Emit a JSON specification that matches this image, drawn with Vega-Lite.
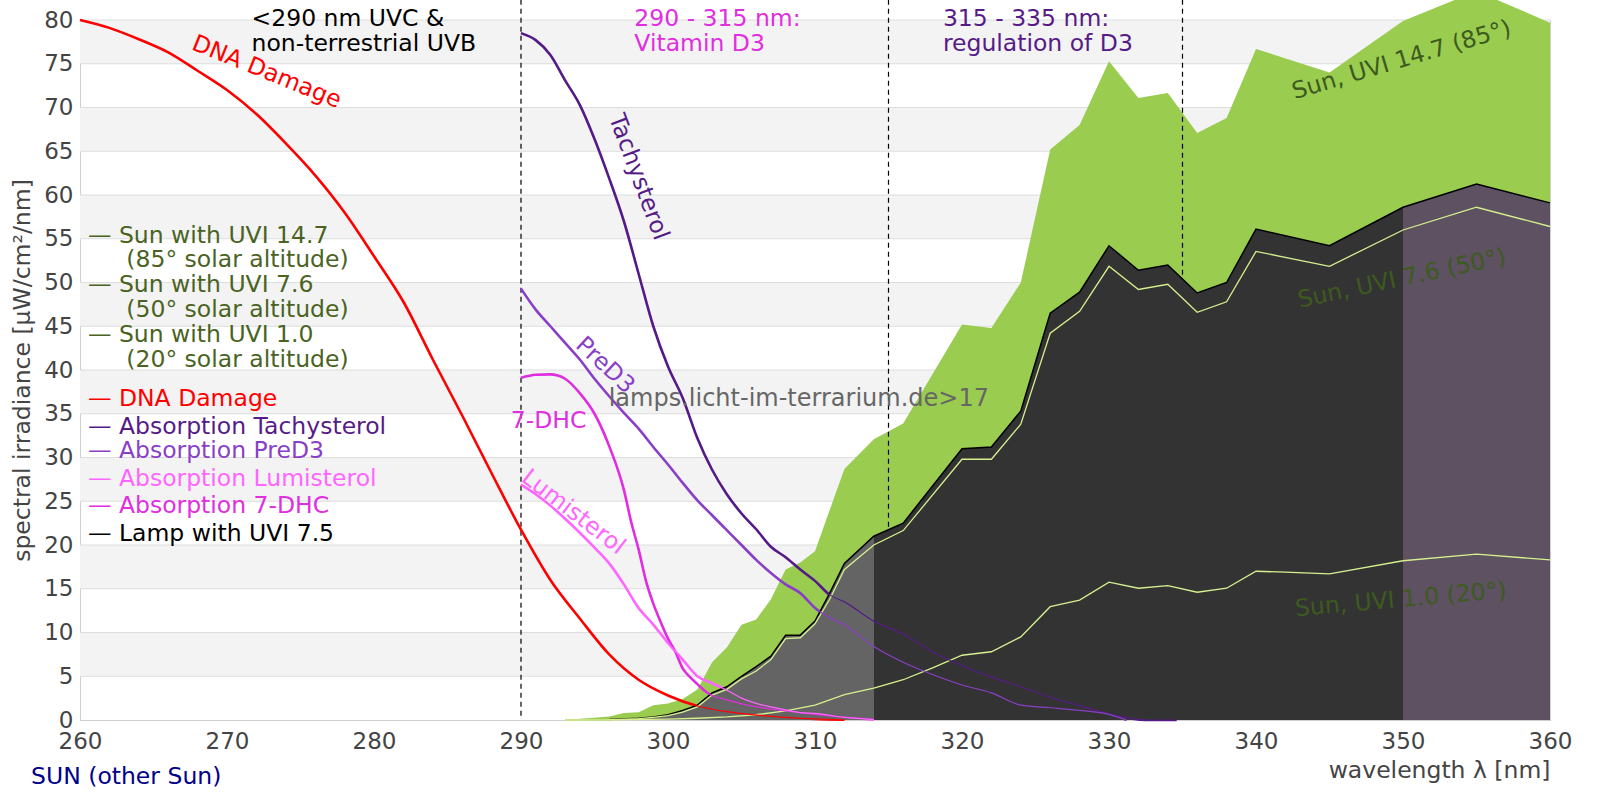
{
  "$schema": "https://vega.github.io/schema/vega-lite/v6.json",
  "width": 1470,
  "height": 700,
  "autosize": "none",
  "padding": {"left": 80, "top": 20, "right": 50, "bottom": 80},
  "config": {
    "font": "DejaVu Sans",
    "view": {"stroke": "#d0d0d0"},
    "axis": {
      "labelFont": "DejaVu Sans",
      "titleFont": "DejaVu Sans",
      "labelFontSize": 23,
      "titleFontSize": 23.5,
      "labelColor": "#444444",
      "titleColor": "#444444",
      "titleFontWeight": "normal",
      "domainColor": "#cfcfcf",
      "grid": false,
      "ticks": false,
      "tickSize": 0,
      "labelFlush": false,
      "labelOverlap": false
    },
    "text": {"fontSize": 23.5}
  },
  "datasets": {
    "bands": [
      {"v": 5, "v2": 10}, {"v": 15, "v2": 20}, {"v": 25, "v2": 30}, {"v": 35, "v2": 40},
      {"v": 45, "v2": 50}, {"v": 55, "v2": 60}, {"v": 65, "v2": 70}, {"v": 75, "v2": 80}
    ],
    "grid": [
      {"v": 5}, {"v": 10}, {"v": 15}, {"v": 20}, {"v": 25}, {"v": 30}, {"v": 35}, {"v": 40},
      {"v": 45}, {"v": 50}, {"v": 55}, {"v": 60}, {"v": 65}, {"v": 70}, {"v": 75}, {"v": 80}
    ],
    "bounds": [{"nm": 290}, {"nm": 315}, {"nm": 335}],
    "legend": [
      {"s": "Sun", "label": "— Sun with UVI 14.7", "indent": 0, "v": 54.52},
      {"s": "Sun", "label": "(85° solar altitude)", "indent": 1, "v": 51.73},
      {"s": "Sun", "label": "— Sun with UVI 7.6", "indent": 0, "v": 48.87},
      {"s": "Sun", "label": "(50° solar altitude)", "indent": 1, "v": 46.01},
      {"s": "Sun", "label": "— Sun with UVI 1.0", "indent": 0, "v": 43.15},
      {"s": "Sun", "label": "(20° solar altitude)", "indent": 1, "v": 40.29},
      {"s": "DNA Damage", "label": "— DNA Damage", "indent": 0, "v": 35.94},
      {"s": "Tachysterol", "label": "— Absorption Tachysterol", "indent": 0, "v": 32.72},
      {"s": "PreD3", "label": "— Absorption PreD3", "indent": 0, "v": 29.93},
      {"s": "Lumisterol", "label": "— Absorption Lumisterol", "indent": 0, "v": 26.76},
      {"s": "7-DHC", "label": "— Absorption 7-DHC", "indent": 0, "v": 23.64},
      {"s": "Lamp", "label": "— Lamp with UVI 7.5", "indent": 0, "v": 20.42}
    ],
    "notes": [
      {"s": "Lamp", "label": "<290 nm UVC &", "nm": 271.67, "v": 79.31},
      {"s": "Lamp", "label": "non-terrestrial UVB", "nm": 271.67, "v": 76.43},
      {"s": "7-DHC", "label": "290 - 315 nm:", "nm": 297.71, "v": 79.31},
      {"s": "7-DHC", "label": "Vitamin D3", "nm": 297.71, "v": 76.43},
      {"s": "Tachysterol", "label": "315 - 335 nm:", "nm": 318.7, "v": 79.31},
      {"s": "Tachysterol", "label": "regulation of D3", "nm": 318.7, "v": 76.43},
      {"s": "7-DHC", "label": "7-DHC", "nm": 289.3, "v": 33.36}
    ],
    "spec": [
      {"s": "DNA Damage", "nm": 260, "v": 80}, {"s": "DNA Damage", "nm": 262, "v": 79.1},
      {"s": "DNA Damage", "nm": 264, "v": 77.8}, {"s": "DNA Damage", "nm": 266, "v": 76.3},
      {"s": "DNA Damage", "nm": 268, "v": 74.2}, {"s": "DNA Damage", "nm": 270, "v": 72.0},
      {"s": "DNA Damage", "nm": 272, "v": 69.25}, {"s": "DNA Damage", "nm": 274, "v": 65.9},
      {"s": "DNA Damage", "nm": 276, "v": 62.25}, {"s": "DNA Damage", "nm": 278, "v": 58.0},
      {"s": "DNA Damage", "nm": 280, "v": 53.0}, {"s": "DNA Damage", "nm": 282, "v": 47.8},
      {"s": "DNA Damage", "nm": 284, "v": 41.2}, {"s": "DNA Damage", "nm": 286, "v": 34.8},
      {"s": "DNA Damage", "nm": 288, "v": 28.2}, {"s": "DNA Damage", "nm": 290, "v": 21.75},
      {"s": "DNA Damage", "nm": 292, "v": 16.0}, {"s": "DNA Damage", "nm": 294, "v": 11.6},
      {"s": "DNA Damage", "nm": 296, "v": 7.5}, {"s": "DNA Damage", "nm": 298, "v": 4.6},
      {"s": "DNA Damage", "nm": 300, "v": 2.8}, {"s": "DNA Damage", "nm": 302, "v": 1.6},
      {"s": "DNA Damage", "nm": 304, "v": 0.95}, {"s": "DNA Damage", "nm": 306, "v": 0.55},
      {"s": "DNA Damage", "nm": 308, "v": 0.3}, {"s": "DNA Damage", "nm": 310, "v": 0.12},
      {"s": "DNA Damage", "nm": 312, "v": 0.03},

      {"s": "Tachysterol", "nm": 290, "v": 78.5}, {"s": "Tachysterol", "nm": 291, "v": 77.7},
      {"s": "Tachysterol", "nm": 292, "v": 76.0}, {"s": "Tachysterol", "nm": 293, "v": 73.1},
      {"s": "Tachysterol", "nm": 294, "v": 70.3}, {"s": "Tachysterol", "nm": 295, "v": 66.4},
      {"s": "Tachysterol", "nm": 296, "v": 61.9}, {"s": "Tachysterol", "nm": 297, "v": 57.0},
      {"s": "Tachysterol", "nm": 298, "v": 51.0}, {"s": "Tachysterol", "nm": 299, "v": 45.0},
      {"s": "Tachysterol", "nm": 300, "v": 40.4}, {"s": "Tachysterol", "nm": 301, "v": 36.8},
      {"s": "Tachysterol", "nm": 302, "v": 32.2}, {"s": "Tachysterol", "nm": 303, "v": 28.6},
      {"s": "Tachysterol", "nm": 304, "v": 25.8}, {"s": "Tachysterol", "nm": 305, "v": 23.6},
      {"s": "Tachysterol", "nm": 306, "v": 21.8}, {"s": "Tachysterol", "nm": 307, "v": 19.8},
      {"s": "Tachysterol", "nm": 308, "v": 18.6}, {"s": "Tachysterol", "nm": 309, "v": 17.2},
      {"s": "Tachysterol", "nm": 310, "v": 15.9}, {"s": "Tachysterol", "nm": 311, "v": 14.3},
      {"s": "Tachysterol", "nm": 312, "v": 13.5}, {"s": "Tachysterol", "nm": 314, "v": 11.3},
      {"s": "Tachysterol", "nm": 316, "v": 9.8}, {"s": "Tachysterol", "nm": 318, "v": 7.8},
      {"s": "Tachysterol", "nm": 320, "v": 6.2}, {"s": "Tachysterol", "nm": 322, "v": 4.9},
      {"s": "Tachysterol", "nm": 324, "v": 3.8}, {"s": "Tachysterol", "nm": 326, "v": 2.6},
      {"s": "Tachysterol", "nm": 328, "v": 1.65}, {"s": "Tachysterol", "nm": 330, "v": 0.7},
      {"s": "Tachysterol", "nm": 332.5, "v": 0}, {"s": "Tachysterol", "nm": 334.6, "v": 0},

      {"s": "PreD3", "nm": 290, "v": 49.3}, {"s": "PreD3", "nm": 291, "v": 46.9},
      {"s": "PreD3", "nm": 292, "v": 45.0}, {"s": "PreD3", "nm": 293, "v": 43.1},
      {"s": "PreD3", "nm": 294, "v": 41.2}, {"s": "PreD3", "nm": 295, "v": 39.0},
      {"s": "PreD3", "nm": 296, "v": 37.0}, {"s": "PreD3", "nm": 297, "v": 35.1},
      {"s": "PreD3", "nm": 298, "v": 33.3}, {"s": "PreD3", "nm": 299, "v": 31.2},
      {"s": "PreD3", "nm": 300, "v": 29.2}, {"s": "PreD3", "nm": 301, "v": 27.1},
      {"s": "PreD3", "nm": 302, "v": 25.1}, {"s": "PreD3", "nm": 303, "v": 23.4},
      {"s": "PreD3", "nm": 304, "v": 21.7}, {"s": "PreD3", "nm": 305, "v": 20.0},
      {"s": "PreD3", "nm": 306, "v": 18.3}, {"s": "PreD3", "nm": 307, "v": 16.8},
      {"s": "PreD3", "nm": 308, "v": 15.5}, {"s": "PreD3", "nm": 309, "v": 14.5},
      {"s": "PreD3", "nm": 310, "v": 12.8}, {"s": "PreD3", "nm": 311, "v": 11.7},
      {"s": "PreD3", "nm": 312, "v": 10.9}, {"s": "PreD3", "nm": 314, "v": 8.4},
      {"s": "PreD3", "nm": 316, "v": 6.6}, {"s": "PreD3", "nm": 318, "v": 5.2},
      {"s": "PreD3", "nm": 320, "v": 4.0}, {"s": "PreD3", "nm": 322, "v": 3.1},
      {"s": "PreD3", "nm": 324, "v": 1.7}, {"s": "PreD3", "nm": 326, "v": 1.4},
      {"s": "PreD3", "nm": 328, "v": 1.1}, {"s": "PreD3", "nm": 330, "v": 0.65},
      {"s": "PreD3", "nm": 331.2, "v": 0},

      {"s": "7-DHC", "nm": 290, "v": 39.1}, {"s": "7-DHC", "nm": 291, "v": 39.45},
      {"s": "7-DHC", "nm": 292, "v": 39.5}, {"s": "7-DHC", "nm": 293, "v": 39.0},
      {"s": "7-DHC", "nm": 294, "v": 37.35}, {"s": "7-DHC", "nm": 295, "v": 35.0},
      {"s": "7-DHC", "nm": 296, "v": 31.3}, {"s": "7-DHC", "nm": 297, "v": 26.3},
      {"s": "7-DHC", "nm": 297.5, "v": 22.6}, {"s": "7-DHC", "nm": 298, "v": 19.5},
      {"s": "7-DHC", "nm": 298.5, "v": 15.9}, {"s": "7-DHC", "nm": 299, "v": 13.3},
      {"s": "7-DHC", "nm": 299.5, "v": 11.2}, {"s": "7-DHC", "nm": 300, "v": 9.3},
      {"s": "7-DHC", "nm": 300.5, "v": 7.8}, {"s": "7-DHC", "nm": 301, "v": 5.9},
      {"s": "7-DHC", "nm": 301.5, "v": 4.9}, {"s": "7-DHC", "nm": 302, "v": 4.1},
      {"s": "7-DHC", "nm": 302.6, "v": 3.2}, {"s": "7-DHC", "nm": 303, "v": 2.8},
      {"s": "7-DHC", "nm": 304, "v": 2.3}, {"s": "7-DHC", "nm": 305, "v": 1.85},
      {"s": "7-DHC", "nm": 306, "v": 1.5}, {"s": "7-DHC", "nm": 308, "v": 1.05},
      {"s": "7-DHC", "nm": 310, "v": 0.65}, {"s": "7-DHC", "nm": 312, "v": 0.33},
      {"s": "7-DHC", "nm": 314, "v": 0.08},

      {"s": "Lumisterol", "nm": 290, "v": 26.9}, {"s": "Lumisterol", "nm": 291, "v": 25.8},
      {"s": "Lumisterol", "nm": 292, "v": 24.5}, {"s": "Lumisterol", "nm": 293, "v": 23.0},
      {"s": "Lumisterol", "nm": 294, "v": 21.4}, {"s": "Lumisterol", "nm": 295, "v": 19.7},
      {"s": "Lumisterol", "nm": 296, "v": 17.9}, {"s": "Lumisterol", "nm": 297, "v": 15.5},
      {"s": "Lumisterol", "nm": 298, "v": 12.8}, {"s": "Lumisterol", "nm": 299, "v": 10.9},
      {"s": "Lumisterol", "nm": 300, "v": 8.8}, {"s": "Lumisterol", "nm": 301, "v": 6.9},
      {"s": "Lumisterol", "nm": 302, "v": 5.0}, {"s": "Lumisterol", "nm": 303, "v": 4.2},
      {"s": "Lumisterol", "nm": 304, "v": 3.4}, {"s": "Lumisterol", "nm": 305, "v": 2.5},
      {"s": "Lumisterol", "nm": 306, "v": 1.9}, {"s": "Lumisterol", "nm": 307, "v": 1.5},
      {"s": "Lumisterol", "nm": 308, "v": 1.15}, {"s": "Lumisterol", "nm": 309, "v": 0.85},
      {"s": "Lumisterol", "nm": 310, "v": 0.75}, {"s": "Lumisterol", "nm": 312, "v": 0.3},
      {"s": "Lumisterol", "nm": 314, "v": 0.05},

      {"s": "Sun 14.7", "nm": 293, "v": 0}, {"s": "Sun 14.7", "nm": 294, "v": 0.15},
      {"s": "Sun 14.7", "nm": 295, "v": 0.25}, {"s": "Sun 14.7", "nm": 296, "v": 0.4},
      {"s": "Sun 14.7", "nm": 297, "v": 0.8}, {"s": "Sun 14.7", "nm": 298, "v": 0.9},
      {"s": "Sun 14.7", "nm": 299, "v": 1.7}, {"s": "Sun 14.7", "nm": 300, "v": 1.9},
      {"s": "Sun 14.7", "nm": 301, "v": 2.4}, {"s": "Sun 14.7", "nm": 302, "v": 3.5},
      {"s": "Sun 14.7", "nm": 303, "v": 6.6}, {"s": "Sun 14.7", "nm": 304, "v": 8.3},
      {"s": "Sun 14.7", "nm": 305, "v": 10.9}, {"s": "Sun 14.7", "nm": 306, "v": 11.5},
      {"s": "Sun 14.7", "nm": 307, "v": 13.8}, {"s": "Sun 14.7", "nm": 308, "v": 17.2},
      {"s": "Sun 14.7", "nm": 309, "v": 18.0}, {"s": "Sun 14.7", "nm": 310, "v": 19.3},
      {"s": "Sun 14.7", "nm": 312, "v": 28.7}, {"s": "Sun 14.7", "nm": 314, "v": 32.1},
      {"s": "Sun 14.7", "nm": 316, "v": 33.9}, {"s": "Sun 14.7", "nm": 320, "v": 45.2},
      {"s": "Sun 14.7", "nm": 322, "v": 44.8}, {"s": "Sun 14.7", "nm": 324, "v": 50.0},
      {"s": "Sun 14.7", "nm": 326, "v": 65.2}, {"s": "Sun 14.7", "nm": 328, "v": 68.0},
      {"s": "Sun 14.7", "nm": 330, "v": 75.3}, {"s": "Sun 14.7", "nm": 332, "v": 71.1},
      {"s": "Sun 14.7", "nm": 334, "v": 71.65}, {"s": "Sun 14.7", "nm": 336, "v": 67.1},
      {"s": "Sun 14.7", "nm": 338, "v": 68.8}, {"s": "Sun 14.7", "nm": 340, "v": 76.7},
      {"s": "Sun 14.7", "nm": 345, "v": 74.0}, {"s": "Sun 14.7", "nm": 350, "v": 79.9},
      {"s": "Sun 14.7", "nm": 355, "v": 83.3}, {"s": "Sun 14.7", "nm": 360, "v": 79.7},

      {"s": "Lamp", "nm": 293, "v": 0}, {"s": "Lamp", "nm": 296, "v": 0.05},
      {"s": "Lamp", "nm": 298, "v": 0.2}, {"s": "Lamp", "nm": 299, "v": 0.35},
      {"s": "Lamp", "nm": 300, "v": 0.6}, {"s": "Lamp", "nm": 301, "v": 1.1},
      {"s": "Lamp", "nm": 302, "v": 1.7}, {"s": "Lamp", "nm": 303, "v": 3.1},
      {"s": "Lamp", "nm": 304, "v": 3.8}, {"s": "Lamp", "nm": 305, "v": 5.0},
      {"s": "Lamp", "nm": 306, "v": 6.1}, {"s": "Lamp", "nm": 307, "v": 7.3},
      {"s": "Lamp", "nm": 308, "v": 9.7}, {"s": "Lamp", "nm": 309, "v": 9.7},
      {"s": "Lamp", "nm": 310, "v": 11.3}, {"s": "Lamp", "nm": 311, "v": 14.5},
      {"s": "Lamp", "nm": 312, "v": 17.9}, {"s": "Lamp", "nm": 314, "v": 21.0},
      {"s": "Lamp", "nm": 316, "v": 22.5}, {"s": "Lamp", "nm": 320, "v": 31.0},
      {"s": "Lamp", "nm": 322, "v": 31.2}, {"s": "Lamp", "nm": 324, "v": 35.3},
      {"s": "Lamp", "nm": 326, "v": 46.5}, {"s": "Lamp", "nm": 328, "v": 48.9},
      {"s": "Lamp", "nm": 330, "v": 54.2}, {"s": "Lamp", "nm": 332, "v": 51.4},
      {"s": "Lamp", "nm": 334, "v": 52.0}, {"s": "Lamp", "nm": 336, "v": 48.8},
      {"s": "Lamp", "nm": 338, "v": 50.0}, {"s": "Lamp", "nm": 340, "v": 56.1},
      {"s": "Lamp", "nm": 345, "v": 54.2}, {"s": "Lamp", "nm": 350, "v": 58.6},
      {"s": "Lamp", "nm": 355, "v": 61.25}, {"s": "Lamp", "nm": 360, "v": 59.1},

      {"s": "Sun 7.6", "nm": 293, "v": 0}, {"s": "Sun 7.6", "nm": 296, "v": 0.03},
      {"s": "Sun 7.6", "nm": 298, "v": 0.15}, {"s": "Sun 7.6", "nm": 299, "v": 0.3},
      {"s": "Sun 7.6", "nm": 300, "v": 0.5}, {"s": "Sun 7.6", "nm": 301, "v": 0.9},
      {"s": "Sun 7.6", "nm": 302, "v": 1.5}, {"s": "Sun 7.6", "nm": 303, "v": 2.85},
      {"s": "Sun 7.6", "nm": 304, "v": 3.5}, {"s": "Sun 7.6", "nm": 305, "v": 4.7},
      {"s": "Sun 7.6", "nm": 306, "v": 5.6}, {"s": "Sun 7.6", "nm": 307, "v": 6.9},
      {"s": "Sun 7.6", "nm": 308, "v": 9.3}, {"s": "Sun 7.6", "nm": 309, "v": 9.4},
      {"s": "Sun 7.6", "nm": 310, "v": 11.0}, {"s": "Sun 7.6", "nm": 311, "v": 13.8},
      {"s": "Sun 7.6", "nm": 312, "v": 17.2}, {"s": "Sun 7.6", "nm": 314, "v": 20.0},
      {"s": "Sun 7.6", "nm": 316, "v": 21.65}, {"s": "Sun 7.6", "nm": 320, "v": 29.8},
      {"s": "Sun 7.6", "nm": 322, "v": 29.8}, {"s": "Sun 7.6", "nm": 324, "v": 33.8},
      {"s": "Sun 7.6", "nm": 326, "v": 44.2}, {"s": "Sun 7.6", "nm": 328, "v": 46.7},
      {"s": "Sun 7.6", "nm": 330, "v": 51.85}, {"s": "Sun 7.6", "nm": 332, "v": 49.2},
      {"s": "Sun 7.6", "nm": 334, "v": 49.8}, {"s": "Sun 7.6", "nm": 336, "v": 46.6},
      {"s": "Sun 7.6", "nm": 338, "v": 47.8}, {"s": "Sun 7.6", "nm": 340, "v": 53.55},
      {"s": "Sun 7.6", "nm": 345, "v": 51.85}, {"s": "Sun 7.6", "nm": 350, "v": 56.0},
      {"s": "Sun 7.6", "nm": 355, "v": 58.6}, {"s": "Sun 7.6", "nm": 360, "v": 56.4},

      {"s": "Sun 1.0", "nm": 293, "v": 0}, {"s": "Sun 1.0", "nm": 296, "v": 0.02},
      {"s": "Sun 1.0", "nm": 300, "v": 0.1}, {"s": "Sun 1.0", "nm": 302, "v": 0.2},
      {"s": "Sun 1.0", "nm": 304, "v": 0.35}, {"s": "Sun 1.0", "nm": 306, "v": 0.6},
      {"s": "Sun 1.0", "nm": 308, "v": 1.05}, {"s": "Sun 1.0", "nm": 310, "v": 1.7},
      {"s": "Sun 1.0", "nm": 312, "v": 2.9}, {"s": "Sun 1.0", "nm": 314, "v": 3.65},
      {"s": "Sun 1.0", "nm": 316, "v": 4.6}, {"s": "Sun 1.0", "nm": 318, "v": 5.95},
      {"s": "Sun 1.0", "nm": 320, "v": 7.4}, {"s": "Sun 1.0", "nm": 322, "v": 7.8},
      {"s": "Sun 1.0", "nm": 324, "v": 9.5}, {"s": "Sun 1.0", "nm": 326, "v": 12.95},
      {"s": "Sun 1.0", "nm": 328, "v": 13.7}, {"s": "Sun 1.0", "nm": 330, "v": 15.75},
      {"s": "Sun 1.0", "nm": 332, "v": 15.06}, {"s": "Sun 1.0", "nm": 334, "v": 15.36},
      {"s": "Sun 1.0", "nm": 336, "v": 14.6}, {"s": "Sun 1.0", "nm": 338, "v": 15.06},
      {"s": "Sun 1.0", "nm": 340, "v": 17.0}, {"s": "Sun 1.0", "nm": 342, "v": 16.9},
      {"s": "Sun 1.0", "nm": 345, "v": 16.7}, {"s": "Sun 1.0", "nm": 350, "v": 18.2},
      {"s": "Sun 1.0", "nm": 355, "v": 18.95}, {"s": "Sun 1.0", "nm": 360, "v": 18.3}
    ]
  },
  "layer": [
    {
      "data": {"name": "bands"},
      "mark": {"type": "rect", "color": "#f3f3f3"},
      "encoding": {
        "x": {
          "datum": 260,
          "type": "quantitative",
          "scale": {"domain": [260, 360], "nice": false, "zero": false},
          "axis": {
            "title": "wavelength λ [nm]",
            "values": [260, 270, 280, 290, 300, 310, 320, 330, 340, 350, 360],
            "labelPadding": 10,
            "titleAnchor": "end",
            "titlePadding": 5
          }
        },
        "x2": {"datum": 360},
        "y": {
          "field": "v",
          "type": "quantitative",
          "scale": {"domain": [0, 80], "nice": false, "zero": true},
          "axis": {
            "title": "spectral irradiance [µW/cm²/nm]",
            "values": [0, 5, 10, 15, 20, 25, 30, 35, 40, 45, 50, 55, 60, 65, 70, 75, 80],
            "labelPadding": 7,
            "titlePadding": 9
          }
        },
        "y2": {"field": "v2"}
      }
    },
    {
      "data": {"name": "grid"},
      "mark": {"type": "rule", "color": "#dddddd", "strokeWidth": 1},
      "encoding": {"y": {"field": "v", "type": "quantitative"}}
    },
    {
      "data": {"name": "spec"},
      "transform": [{"filter": "datum.s === 'Sun 14.7'"}],
      "mark": {"type": "area", "color": "#99cc4f", "opacity": 1},
      "encoding": {
        "x": {"field": "nm", "type": "quantitative"},
        "y": {"field": "v", "type": "quantitative"}
      }
    },
    {
      "data": {"name": "bounds"},
      "mark": {"type": "rule", "color": "#000000", "strokeWidth": 1.2, "strokeDash": [5, 4]},
      "encoding": {
        "x": {"field": "nm", "type": "quantitative"},
        "y": {"datum": 0.5},
        "y2": {"datum": 82.4}
      }
    },
    {
      "data": {"name": "spec"},
      "transform": [{"filter": {"field": "s", "oneOf": ["DNA Damage", "Tachysterol", "PreD3", "Lumisterol", "7-DHC"]}}],
      "mark": {"type": "line", "strokeWidth": 2.6, "interpolate": "monotone"},
      "encoding": {
        "x": {"field": "nm", "type": "quantitative"},
        "y": {"field": "v", "type": "quantitative"},
        "color": {
          "field": "s",
          "type": "nominal",
          "scale": {
            "domain": ["DNA Damage", "Tachysterol", "PreD3", "Lumisterol", "7-DHC", "Lamp", "Sun"],
            "range": ["#ff0000", "#561b88", "#8a3fc8", "#ff66ff", "#e02ee0", "#000000", "#4a6322"]
          },
          "legend": null
        }
      }
    },
    {
      "data": {"name": "spec"},
      "transform": [{"filter": "datum.s === 'Lamp'"}],
      "mark": {
        "type": "area",
        "color": {
          "gradient": "linear",
          "x1": 0, "x2": 1, "y1": 0, "y2": 0,
          "stops": [
            {"offset": 0, "color": "#646464"},
            {"offset": 0.3134, "color": "#646464"},
            {"offset": 0.3134, "color": "#333333"},
            {"offset": 0.8507, "color": "#333333"},
            {"offset": 0.8507, "color": "#5e5161"},
            {"offset": 1, "color": "#5e5161"}
          ]
        }
      },
      "encoding": {
        "x": {"field": "nm", "type": "quantitative"},
        "y": {"field": "v", "type": "quantitative"}
      }
    },
    {
      "data": {"name": "spec"},
      "transform": [{"filter": "datum.s === 'Lamp'"}],
      "mark": {"type": "line", "color": "#000000", "strokeWidth": 1.5},
      "encoding": {
        "x": {"field": "nm", "type": "quantitative"},
        "y": {"field": "v", "type": "quantitative"}
      }
    },
    {
      "data": {"name": "spec"},
      "transform": [{"filter": {"field": "s", "oneOf": ["Sun 7.6", "Sun 1.0"]}}],
      "mark": {"type": "line", "color": "#d6f08f", "strokeWidth": 1.3},
      "encoding": {
        "x": {"field": "nm", "type": "quantitative"},
        "y": {"field": "v", "type": "quantitative"},
        "detail": {"field": "s", "type": "nominal"}
      }
    },
    {
      "data": {"name": "spec"},
      "transform": [{"filter": {"field": "s", "oneOf": ["DNA Damage", "Tachysterol", "PreD3", "Lumisterol", "7-DHC"]}}],
      "mark": {"type": "line", "strokeWidth": 1.2, "interpolate": "monotone"},
      "encoding": {
        "x": {"field": "nm", "type": "quantitative"},
        "y": {"field": "v", "type": "quantitative"},
        "color": {"field": "s", "type": "nominal", "legend": null}
      }
    },
    {
      "data": {"name": "legend"},
      "transform": [{"calculate": "datum.indent === 1 ? 263.15 : 260.54", "as": "nm"}],
      "mark": {"type": "text", "align": "left", "baseline": "alphabetic", "fontSize": 23.5},
      "encoding": {
        "x": {"field": "nm", "type": "quantitative"},
        "y": {"field": "v", "type": "quantitative"},
        "text": {"field": "label"},
        "color": {"field": "s", "type": "nominal", "legend": null}
      }
    },
    {
      "data": {"name": "notes"},
      "mark": {"type": "text", "align": "left", "baseline": "alphabetic", "fontSize": 23.5},
      "encoding": {
        "x": {"field": "nm", "type": "quantitative"},
        "y": {"field": "v", "type": "quantitative"},
        "text": {"field": "label"},
        "color": {"field": "s", "type": "nominal", "legend": null}
      }
    },
    {
      "data": {"values": [{"label": "DNA Damage"}]},
      "mark": {"type": "text", "angle": 22, "color": "#ff0000", "align": "center", "baseline": "middle", "fontSize": 23.5},
      "encoding": {"x": {"datum": 272.69}, "y": {"datum": 74.05}, "text": {"field": "label"}}
    },
    {
      "data": {"values": [{"label": "Tachysterol"}]},
      "mark": {"type": "text", "angle": 69.5, "color": "#561b88", "align": "center", "baseline": "middle", "fontSize": 23.5},
      "encoding": {"x": {"datum": 297.99}, "y": {"datum": 62.04}, "text": {"field": "label"}}
    },
    {
      "data": {"values": [{"label": "PreD3"}]},
      "mark": {"type": "text", "angle": 43, "color": "#8a3fc8", "align": "center", "baseline": "middle", "fontSize": 23.5},
      "encoding": {"x": {"datum": 295.71}, "y": {"datum": 40.52}, "text": {"field": "label"}}
    },
    {
      "data": {"values": [{"label": "Lumisterol"}]},
      "mark": {"type": "text", "angle": 37.5, "color": "#ff66ff", "align": "center", "baseline": "middle", "fontSize": 23.5},
      "encoding": {"x": {"datum": 293.56}, "y": {"datum": 23.75}, "text": {"field": "label"}}
    },
    {
      "data": {"values": [{"label": "lamps.licht-im-terrarium.de>17"}]},
      "mark": {"type": "text", "color": "#666666", "align": "center", "baseline": "alphabetic", "fontSize": 24},
      "encoding": {"x": {"datum": 308.9}, "y": {"datum": 35.91}, "text": {"field": "label"}}
    },
    {
      "data": {"values": [{"label": "Sun, UVI 14.7 (85°)"}]},
      "mark": {"type": "text", "angle": 343.5, "color": "#3d5a1f", "align": "center", "baseline": "middle", "fontSize": 23.5},
      "encoding": {"x": {"datum": 349.91}, "y": {"datum": 75.39}, "text": {"field": "label"}}
    },
    {
      "data": {"values": [{"label": "Sun, UVI 7.6 (50°)"}]},
      "mark": {"type": "text", "angle": 348, "color": "#3d5a1f", "align": "center", "baseline": "middle", "fontSize": 23.5},
      "encoding": {"x": {"datum": 349.93}, "y": {"datum": 50.41}, "text": {"field": "label"}}
    },
    {
      "data": {"values": [{"label": "Sun, UVI 1.0 (20°)"}]},
      "mark": {"type": "text", "angle": 355, "color": "#3d5a1f", "align": "center", "baseline": "middle", "fontSize": 23.5},
      "encoding": {"x": {"datum": 349.85}, "y": {"datum": 13.72}, "text": {"field": "label"}}
    },
    {
      "data": {"values": [{"label": "SUN (other Sun)"}]},
      "mark": {"type": "text", "color": "#00008b", "align": "left", "baseline": "alphabetic", "fontSize": 23.5},
      "encoding": {"x": {"datum": 256.67}, "y": {"datum": -7.35}, "text": {"field": "label"}}
    }
  ]
}
